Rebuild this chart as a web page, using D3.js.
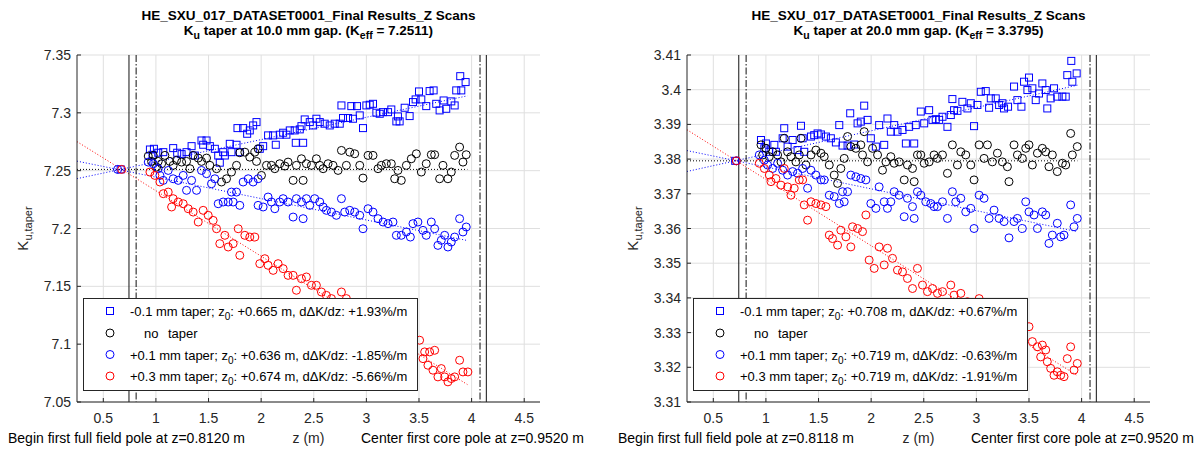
<!DOCTYPE html>
<html><head><meta charset="utf-8">
<script src="https://cdn.jsdelivr.net/npm/d3@7"></script>
<style>
body{margin:0;background:#fff}
text{font-family:"Liberation Sans",Arial,Helvetica,sans-serif}
</style>
</head><body>
<svg id="chart" width="1204" height="451"></svg>
<script>
// ---------------- DATA ----------------
const titleLine1 = "HE_SXU_017_DATASET0001_Final Results_Z Scans";
const gapLabels = ["10.0", "20.0"];
const keffLabels = ["7.2511", "3.3795"];
const keffValues = [7.2511, 3.3795];
const yDomains = [[7.05, 7.35], [3.31, 3.41]];
const yTicksLeft = [7.05, 7.1, 7.15, 7.2, 7.25, 7.3, 7.35];
const yTicksRight = [3.31, 3.32, 3.33, 3.34, 3.35, 3.36, 3.37, 3.38, 3.39, 3.4, 3.41];
const xDomain = [0.25, 4.65];
const xTicks = [0.5, 1, 1.5, 2, 2.5, 3, 3.5, 4, 4.5];
const seriesNames = ["-0.1 mm taper", "no taper", "+0.1 mm taper", "+0.3 mm taper"];
const seriesColors = ["#0000ff", "#000000", "#0000ff", "#ff0000"];
const seriesShapes = ["square", "circle", "circle", "circle"];
const z0Left = [0.665, null, 0.636, 0.674];
const slopeLeft = [1.93, 0, -1.85, -5.66];
const z0Right = [0.708, null, 0.719, 0.719];
const slopeRight = [0.67, 0, -0.63, -1.91];
const fitEnd = 3.96;
const poleLinesLeft = [0.744, 0.812, 4.08, 4.14];
const poleLinesRight = [0.742, 0.8118, 4.08, 4.14];
const poleLineKinds = ["solid", "dashdot", "dashdot", "solid"];
const beginPole = ["0.8120", "0.8118"];
const centerPole = ["0.9520", "0.9520"];

// Left panel (10 mm gap)
const leftMinus01 = [[0.943,7.2683],[0.981,7.2689],[1.022,7.2655],[0.968,7.2637],[1.070,7.2660],[1.164,7.2695],[1.202,7.2655],[1.244,7.2643],[1.291,7.2660],[1.339,7.2712],[1.370,7.2631],[1.433,7.2761],[1.481,7.2761],[1.449,7.2724],[1.513,7.2712],[1.560,7.2689],[1.592,7.2631],[1.639,7.2660],[1.607,7.2569],[1.655,7.2631],[1.702,7.2732],[1.766,7.2724],[1.718,7.2660],[1.797,7.2660],[1.775,7.2868],[1.829,7.2868],[1.867,7.2819],[1.892,7.2848],[1.924,7.2891],[1.956,7.2920],[1.987,7.2689],[2.019,7.2712],[2.066,7.2805],[2.114,7.2805],[2.139,7.2724],[2.177,7.2811],[2.209,7.2828],[2.240,7.2811],[2.272,7.2848],[2.319,7.2848],[2.367,7.2857],[2.329,7.2741],[2.399,7.2741],[2.383,7.2885],[2.414,7.2943],[2.462,7.2920],[2.494,7.2891],[2.525,7.2949],[2.557,7.2920],[2.604,7.2906],[2.652,7.2891],[2.699,7.2906],[2.747,7.2906],[2.778,7.2955],[2.826,7.2955],[2.873,7.2949],[2.763,7.3064],[2.857,7.3058],[2.911,7.3058],[2.968,7.2868],[2.937,7.2978],[3.000,7.3064],[3.032,7.3070],[3.063,7.3078],[3.095,7.3001],[3.127,7.2992],[3.158,7.3006],[3.206,7.3006],[3.237,7.3029],[3.285,7.2926],[3.316,7.2926],[3.300,7.2969],[3.364,7.3044],[3.411,7.2972],[3.443,7.3093],[3.500,7.3185],[3.468,7.3116],[3.522,7.3116],[3.569,7.3058],[3.601,7.3188],[3.639,7.3194],[3.664,7.3078],[3.696,7.3021],[3.734,7.3107],[3.759,7.3035],[3.807,7.3099],[3.839,7.3064],[3.854,7.3194],[3.902,7.3194],[3.892,7.3317],[3.943,7.3266]];
const leftNoTaper = [[0.927,7.2626],[0.975,7.2632],[0.959,7.2580],[1.022,7.2580],[1.054,7.2560],[1.006,7.2531],[1.085,7.2632],[1.133,7.2580],[1.164,7.2546],[1.196,7.2589],[1.244,7.2574],[1.291,7.2580],[1.323,7.2517],[1.354,7.2632],[1.402,7.2609],[1.433,7.2580],[1.481,7.2609],[1.513,7.2546],[1.576,7.2517],[1.623,7.2402],[1.671,7.2430],[1.718,7.2488],[1.766,7.2546],[1.797,7.2655],[1.845,7.2660],[1.892,7.2617],[1.940,7.2660],[1.971,7.2689],[1.956,7.2580],[2.003,7.2459],[2.051,7.2546],[2.098,7.2546],[2.130,7.2517],[2.177,7.2560],[2.225,7.2540],[2.256,7.2574],[2.304,7.2416],[2.399,7.2416],[2.335,7.2546],[2.383,7.2603],[2.430,7.2560],[2.478,7.2546],[2.525,7.2603],[2.557,7.2546],[2.589,7.2517],[2.636,7.2560],[2.683,7.2546],[2.731,7.2502],[2.763,7.2675],[2.810,7.2546],[2.842,7.2660],[2.889,7.2646],[2.937,7.2546],[2.968,7.2436],[3.016,7.2632],[3.063,7.2632],[3.111,7.2517],[3.142,7.2546],[3.190,7.2560],[3.237,7.2560],[3.269,7.2430],[3.300,7.2502],[3.332,7.2416],[3.380,7.2546],[3.427,7.2603],[3.475,7.2646],[3.522,7.2488],[3.569,7.2560],[3.617,7.2638],[3.649,7.2638],[3.696,7.2430],[3.728,7.2546],[3.775,7.2430],[3.807,7.2488],[3.839,7.2632],[3.886,7.2704],[3.918,7.2574],[3.949,7.2638]];
const leftPlus01 = [[0.927,7.2574],[0.975,7.2560],[1.022,7.2517],[1.070,7.2416],[1.038,7.2459],[1.117,7.2502],[1.164,7.2430],[1.212,7.2416],[1.259,7.2459],[1.291,7.2330],[1.339,7.2416],[1.386,7.2330],[1.433,7.2502],[1.481,7.2474],[1.528,7.2387],[1.560,7.2430],[1.592,7.2214],[1.639,7.2229],[1.687,7.2229],[1.718,7.2315],[1.766,7.2315],[1.734,7.2229],[1.797,7.2200],[1.829,7.2402],[1.877,7.2430],[1.924,7.2402],[1.971,7.2430],[1.971,7.2200],[2.019,7.2186],[2.066,7.2272],[2.098,7.2229],[2.130,7.2171],[2.177,7.2229],[2.209,7.2258],[2.256,7.2229],[2.304,7.2099],[2.399,7.2085],[2.335,7.2258],[2.383,7.2229],[2.430,7.2258],[2.462,7.2200],[2.509,7.2258],[2.557,7.2229],[2.589,7.2186],[2.620,7.2157],[2.668,7.2142],[2.715,7.2114],[2.763,7.2258],[2.794,7.2142],[2.842,7.2157],[2.889,7.2142],[2.937,7.2114],[2.968,7.1998],[3.016,7.2171],[3.063,7.2142],[3.111,7.2085],[3.158,7.2056],[3.206,7.2042],[3.253,7.2056],[3.285,7.1941],[3.332,7.1941],[3.380,7.1970],[3.418,7.1926],[3.443,7.2042],[3.490,7.2056],[3.538,7.1984],[3.569,7.1941],[3.617,7.2056],[3.649,7.1998],[3.680,7.1854],[3.712,7.1898],[3.744,7.1941],[3.775,7.1840],[3.807,7.1883],[3.839,7.1926],[3.886,7.2085],[3.918,7.1970],[3.949,7.2013]];
const leftPlus03 = [[0.943,7.2488],[0.990,7.2459],[1.038,7.2402],[1.070,7.2301],[1.117,7.2315],[1.164,7.2258],[1.149,7.2186],[1.212,7.2229],[1.259,7.2214],[1.307,7.2171],[1.354,7.2142],[1.402,7.2056],[1.449,7.2157],[1.497,7.2114],[1.544,7.2070],[1.576,7.1998],[1.607,7.1869],[1.655,7.1941],[1.687,7.1840],[1.734,7.1869],[1.782,7.1998],[1.797,7.1768],[1.845,7.1941],[1.892,7.1926],[1.940,7.1926],[1.987,7.1696],[2.035,7.1739],[2.066,7.1682],[2.114,7.1638],[2.161,7.1696],[2.209,7.1653],[2.256,7.1595],[2.304,7.1595],[2.335,7.1466],[2.383,7.1566],[2.430,7.1581],[2.478,7.1509],[2.525,7.1509],[2.573,7.1451],[2.620,7.1422],[2.668,7.1394],[2.763,7.1451],[2.810,7.1394],[2.905,7.1307],[3.032,7.1249],[3.158,7.1192],[3.285,7.1134],[3.380,7.1077],[3.506,7.1034],[3.554,7.0933],[3.601,7.0933],[3.649,7.0947],[3.538,7.0875],[3.585,7.0818],[3.633,7.0775],[3.680,7.0717],[3.712,7.0789],[3.744,7.0717],[3.775,7.0674],[3.807,7.0703],[3.839,7.0717],[3.886,7.0861],[3.918,7.0760],[3.965,7.0760]];

// Right panel (20 mm gap)
const rightMinus01 = [[0.953,3.3855],[1.000,3.3845],[0.985,3.3831],[1.032,3.3821],[1.080,3.3841],[1.095,3.3821],[1.174,3.3889],[1.159,3.3860],[1.206,3.3836],[1.254,3.3855],[1.301,3.3826],[1.349,3.3860],[1.333,3.3896],[1.364,3.3821],[1.428,3.3865],[1.459,3.3869],[1.491,3.3874],[1.523,3.3871],[1.570,3.3865],[1.617,3.3860],[1.665,3.3848],[1.697,3.3898],[1.728,3.3839],[1.776,3.3839],[1.801,3.3932],[1.839,3.3842],[1.871,3.3903],[1.902,3.3908],[1.934,3.3954],[1.966,3.3913],[1.997,3.3860],[2.045,3.3836],[2.076,3.3898],[2.124,3.3841],[2.155,3.3917],[2.187,3.3879],[2.219,3.3898],[2.250,3.3879],[2.298,3.3884],[2.330,3.3845],[2.361,3.3893],[2.409,3.3845],[2.424,3.3898],[2.472,3.3937],[2.504,3.3903],[2.551,3.3941],[2.583,3.3913],[2.614,3.3915],[2.646,3.3913],[2.678,3.3922],[2.725,3.3893],[2.757,3.3927],[2.788,3.3941],[2.772,3.3973],[2.820,3.3939],[2.867,3.3965],[2.915,3.3946],[2.947,3.3961],[2.978,3.3895],[3.010,3.3956],[3.042,3.3994],[3.089,3.3996],[3.121,3.3948],[3.137,3.3975],[3.184,3.3975],[3.216,3.3956],[3.247,3.3961],[3.263,3.3946],[3.301,3.3951],[3.358,3.4009],[3.390,3.3970],[3.428,3.3951],[3.453,3.4023],[3.485,3.3999],[3.500,3.4035],[3.532,3.4004],[3.564,3.3970],[3.595,3.3989],[3.627,3.4018],[3.659,3.3999],[3.674,3.3946],[3.706,3.3975],[3.738,3.4004],[3.769,3.3980],[3.817,3.3980],[3.849,3.3980],[3.864,3.4042],[3.912,3.4023],[3.902,3.4083],[3.953,3.4047]];
const rightNoTaper = [[0.953,3.3841],[1.000,3.3831],[0.969,3.3812],[1.032,3.3807],[1.064,3.3821],[1.111,3.3812],[1.143,3.3792],[1.174,3.3860],[1.206,3.3821],[1.238,3.3807],[1.285,3.3792],[1.333,3.3860],[1.317,3.3812],[1.380,3.3783],[1.428,3.3812],[1.475,3.3826],[1.523,3.3817],[1.554,3.3807],[1.602,3.3783],[1.649,3.3754],[1.681,3.3730],[1.712,3.3773],[1.744,3.3802],[1.776,3.3865],[1.807,3.3836],[1.855,3.3831],[1.902,3.3841],[1.934,3.3879],[1.918,3.3812],[1.966,3.3792],[2.013,3.3831],[2.061,3.3812],[2.108,3.3768],[2.140,3.3792],[2.187,3.3807],[2.219,3.3788],[2.266,3.3792],[2.314,3.3740],[2.409,3.3735],[2.345,3.3783],[2.393,3.3773],[2.440,3.3812],[2.472,3.3812],[2.504,3.3788],[2.551,3.3792],[2.598,3.3812],[2.630,3.3802],[2.678,3.3812],[2.725,3.3759],[2.772,3.3841],[2.820,3.3783],[2.852,3.3821],[2.899,3.3812],[2.947,3.3783],[2.978,3.3740],[3.026,3.3841],[3.073,3.3802],[3.105,3.3841],[3.152,3.3792],[3.200,3.3817],[3.247,3.3792],[3.295,3.3778],[3.310,3.3735],[3.358,3.3841],[3.390,3.3812],[3.437,3.3802],[3.469,3.3831],[3.500,3.3841],[3.532,3.3783],[3.580,3.3817],[3.627,3.3831],[3.659,3.3821],[3.690,3.3778],[3.722,3.3812],[3.769,3.3764],[3.817,3.3788],[3.849,3.3783],[3.896,3.3874],[3.912,3.3812],[3.959,3.3836]];
const rightPlus01 = [[0.937,3.3812],[0.985,3.3797],[1.016,3.3783],[1.064,3.3773],[1.111,3.3788],[1.159,3.3768],[1.206,3.3754],[1.254,3.3764],[1.301,3.3759],[1.349,3.3773],[1.396,3.3716],[1.428,3.3768],[1.475,3.3754],[1.523,3.3740],[1.554,3.3740],[1.602,3.3696],[1.649,3.3692],[1.697,3.3672],[1.728,3.3706],[1.776,3.3706],[1.744,3.3677],[1.807,3.3754],[1.855,3.3749],[1.902,3.3744],[1.950,3.3740],[1.997,3.3672],[2.045,3.3658],[2.076,3.3720],[2.124,3.3677],[2.155,3.3658],[2.187,3.3677],[2.219,3.3706],[2.266,3.3696],[2.314,3.3634],[2.409,3.3629],[2.345,3.3687],[2.393,3.3663],[2.440,3.3706],[2.472,3.3696],[2.519,3.3677],[2.567,3.3672],[2.598,3.3663],[2.630,3.3663],[2.678,3.3677],[2.725,3.3629],[2.772,3.3706],[2.804,3.3677],[2.852,3.3687],[2.899,3.3648],[2.947,3.3658],[2.978,3.3600],[3.026,3.3696],[3.073,3.3687],[3.121,3.3629],[3.168,3.3653],[3.216,3.3629],[3.263,3.3620],[3.310,3.3573],[3.358,3.3620],[3.390,3.3629],[3.437,3.3600],[3.469,3.3677],[3.500,3.3648],[3.548,3.3639],[3.580,3.3600],[3.627,3.3648],[3.659,3.3639],[3.690,3.3557],[3.722,3.3581],[3.769,3.3615],[3.801,3.3576],[3.833,3.3581],[3.896,3.3668],[3.928,3.3605],[3.959,3.3629]];
const rightPlus03 = [[0.937,3.3788],[0.985,3.3773],[1.032,3.3754],[1.048,3.3735],[1.095,3.3744],[1.143,3.3725],[1.174,3.3773],[1.206,3.3720],[1.238,3.3696],[1.269,3.3716],[1.317,3.3740],[1.349,3.3740],[1.364,3.3668],[1.396,3.3624],[1.428,3.3677],[1.475,3.3672],[1.523,3.3668],[1.570,3.3663],[1.602,3.3581],[1.633,3.3571],[1.681,3.3552],[1.712,3.3595],[1.760,3.3576],[1.807,3.3547],[1.823,3.3605],[1.871,3.3600],[1.918,3.3591],[1.950,3.3639],[1.981,3.3509],[2.029,3.3485],[2.076,3.3547],[2.124,3.3495],[2.155,3.3543],[2.203,3.3514],[2.250,3.3480],[2.298,3.3475],[2.345,3.3456],[2.393,3.3427],[2.440,3.3485],[2.488,3.3437],[2.535,3.3418],[2.583,3.3427],[2.630,3.3413],[2.678,3.3418],[2.757,3.3437],[2.788,3.3408],[2.852,3.3413],[2.915,3.3389],[3.026,3.3398],[3.168,3.3360],[3.295,3.3336],[3.390,3.3322],[3.500,3.3317],[3.532,3.3274],[3.580,3.3259],[3.627,3.3264],[3.659,3.3250],[3.611,3.3230],[3.674,3.3216],[3.706,3.3197],[3.738,3.3177],[3.769,3.3187],[3.801,3.3177],[3.833,3.3173],[3.864,3.3225],[3.896,3.3259],[3.928,3.3192],[3.959,3.3211]];

// ---------------- DRAWING ----------------
const svg = d3.select("#chart");
svg.append("rect").attr("width", 1204).attr("height", 451).attr("fill", "#fff");

const panels = [
  { x0: 77, x1: 540, yTicks: yTicksLeft, series: [leftMinus01, leftNoTaper, leftPlus01, leftPlus03],
    z0: z0Left, slope: slopeLeft, poles: poleLinesLeft },
  { x0: 687, x1: 1150, yTicks: yTicksRight, series: [rightMinus01, rightNoTaper, rightPlus01, rightPlus03],
    z0: z0Right, slope: slopeRight, poles: poleLinesRight }
];
const Y0 = 55, Y1 = 402;
const axisColor = "#262626";

function marker(g, shape, x, y, color) {
  if (shape === "square") {
    g.append("rect").attr("x", x - 3.5).attr("y", y - 3.5).attr("width", 7).attr("height", 7)
      .attr("fill", "none").attr("stroke", color).attr("stroke-width", 1);
  } else {
    g.append("circle").attr("cx", x).attr("cy", y).attr("r", 4)
      .attr("fill", "none").attr("stroke", color).attr("stroke-width", 1);
  }
}

panels.forEach((p, pi) => {
  const g = svg.append("g");
  const x = d3.scaleLinear().domain(xDomain).range([p.x0, p.x1]);
  const y = d3.scaleLinear().domain(yDomains[pi]).range([Y1, Y0]);
  const cx = (p.x0 + p.x1) / 2;

  // grid
  g.append("g").selectAll("line").data(xTicks).join("line")
    .attr("x1", d => x(d)).attr("x2", d => x(d)).attr("y1", Y0).attr("y2", Y1)
    .attr("stroke", "#dfdfdf").attr("stroke-width", 1);
  g.append("g").selectAll("line").data(p.yTicks).join("line")
    .attr("x1", p.x0).attr("x2", p.x1).attr("y1", d => y(d)).attr("y2", d => y(d))
    .attr("stroke", "#dfdfdf").attr("stroke-width", 1);

  // fit lines
  const K0 = keffValues[pi];
  seriesNames.forEach((s, si) => {
    const z0 = p.z0[si] === null ? 0 : p.z0[si];
    const f = z => K0 + p.slope[si] / 100 * (z - z0);
    g.append("line")
      .attr("x1", x(xDomain[0])).attr("y1", y(f(xDomain[0])))
      .attr("x2", x(fitEnd)).attr("y2", y(f(fitEnd)))
      .attr("stroke", seriesColors[si]).attr("stroke-width", 1)
      .attr("stroke-dasharray", "1,2");
  });

  // pole lines
  p.poles.forEach((z, i) => {
    g.append("line").attr("x1", x(z)).attr("x2", x(z)).attr("y1", Y0).attr("y2", Y1)
      .attr("stroke", "#111").attr("stroke-width", 1)
      .attr("stroke-dasharray", poleLineKinds[i] === "dashdot" ? "7,2,1.5,2" : null);
  });

  // data markers
  p.series.forEach((arr, si) => {
    const sg = g.append("g");
    arr.forEach(d => marker(sg, seriesShapes[si], x(d[0]), y(d[1]), seriesColors[si]));
  });
  // z0 markers
  [0, 2, 3].forEach(si => marker(g, seriesShapes[si], x(p.z0[si]), y(K0), seriesColors[si]));

  // axes lines
  g.append("line").attr("x1", p.x0).attr("x2", p.x0).attr("y1", Y0).attr("y2", Y1)
    .attr("stroke", axisColor).attr("stroke-width", 1);
  g.append("line").attr("x1", p.x0).attr("x2", p.x1).attr("y1", Y1).attr("y2", Y1)
    .attr("stroke", axisColor).attr("stroke-width", 1);

  // ticks (inward)
  g.append("g").selectAll("line").data(xTicks).join("line")
    .attr("x1", d => x(d)).attr("x2", d => x(d)).attr("y1", Y1).attr("y2", Y1 - 4)
    .attr("stroke", axisColor);
  g.append("g").selectAll("line").data(p.yTicks).join("line")
    .attr("x1", p.x0).attr("x2", p.x0 + 4).attr("y1", d => y(d)).attr("y2", d => y(d))
    .attr("stroke", axisColor);

  // tick labels
  g.append("g").selectAll("text").data(xTicks).join("text")
    .attr("x", d => x(d)).attr("y", 423).attr("text-anchor", "middle")
    .attr("font-size", 14).attr("fill", axisColor).text(d => d3.format("")(d));
  g.append("g").selectAll("text").data(p.yTicks).join("text")
    .attr("x", p.x0 - 6).attr("y", d => y(d) + 5).attr("text-anchor", "end")
    .attr("font-size", 14).attr("fill", axisColor).text(d => d3.format("")(+d.toFixed(2)));

  // titles
  g.append("text").attr("x", cx).attr("y", 20).attr("text-anchor", "middle")
    .attr("font-size", 13.5).attr("font-weight", "bold").attr("fill", "#000").text(titleLine1);
  const t2 = g.append("text").attr("x", cx).attr("y", 35).attr("text-anchor", "middle")
    .attr("font-size", 13.5).attr("font-weight", "bold").attr("fill", "#000");
  t2.append("tspan").text("K");
  t2.append("tspan").attr("dy", 4).attr("font-size", 10.5).text("u");
  t2.append("tspan").attr("dy", -4).text(" taper at " + gapLabels[pi] + " mm gap. (K");
  t2.append("tspan").attr("dy", 4).attr("font-size", 10.5).text("eff");
  t2.append("tspan").attr("dy", -4).text(" = " + keffLabels[pi] + ")");

  // y label
  const yl = g.append("text").attr("transform", `translate(${p.x0 - 49},${(Y0 + Y1) / 2}) rotate(-90)`)
    .attr("text-anchor", "middle").attr("font-size", 15).attr("fill", axisColor);
  yl.append("tspan").text("K");
  yl.append("tspan").attr("dy", 4).attr("font-size", 11).text("u,taper");

  // x label and annotations
  g.append("text").attr("x", cx).attr("y", 443).attr("text-anchor", "middle")
    .attr("font-size", 14).attr("fill", axisColor).text("z (m)");
  g.append("text").attr("x", p.x0 - 69).attr("y", 443)
    .attr("font-size", 14).attr("fill", "#000").text("Begin first full field pole at z=" + beginPole[pi] + " m");
  g.append("text").attr("x", p.x0 + 284).attr("y", 443)
    .attr("font-size", 14).attr("fill", "#000").text("Center first core pole at z=" + centerPole[pi] + " m");

  // legend
  const lg = g.append("g");
  lg.append("rect").attr("x", p.x0 + 6.5).attr("y", 298.5).attr("width", 334).attr("height", 92)
    .attr("fill", "#fff").attr("stroke", axisColor).attr("stroke-width", 1);
  const rowsY = [311, 333, 354.5, 376];
  seriesNames.forEach((s, si) => {
    const my = rowsY[si];
    marker(lg, seriesShapes[si], p.x0 + 33, my, seriesColors[si]);
    const t = lg.append("text").attr("y", my + 5).attr("font-size", 13).attr("fill", "#000");
    if (p.z0[si] === null) {
      t.attr("x", p.x0 + 67);
      t.append("tspan").text("no");
      t.append("tspan").attr("x", p.x0 + 91).text("taper");
    } else {
      t.attr("x", p.x0 + 53);
      t.append("tspan").text(s + "; z");
      t.append("tspan").attr("dy", 4).attr("font-size", 10).text("0");
      const sl = p.slope[si];
      t.append("tspan").attr("dy", -4)
        .text(": +" + p.z0[si].toFixed(3) + " m, d\u0394K/dz: " + (sl >= 0 ? "+" : "") + sl.toFixed(2) + "%/m");
    }
  });
});
</script>
</body></html>
